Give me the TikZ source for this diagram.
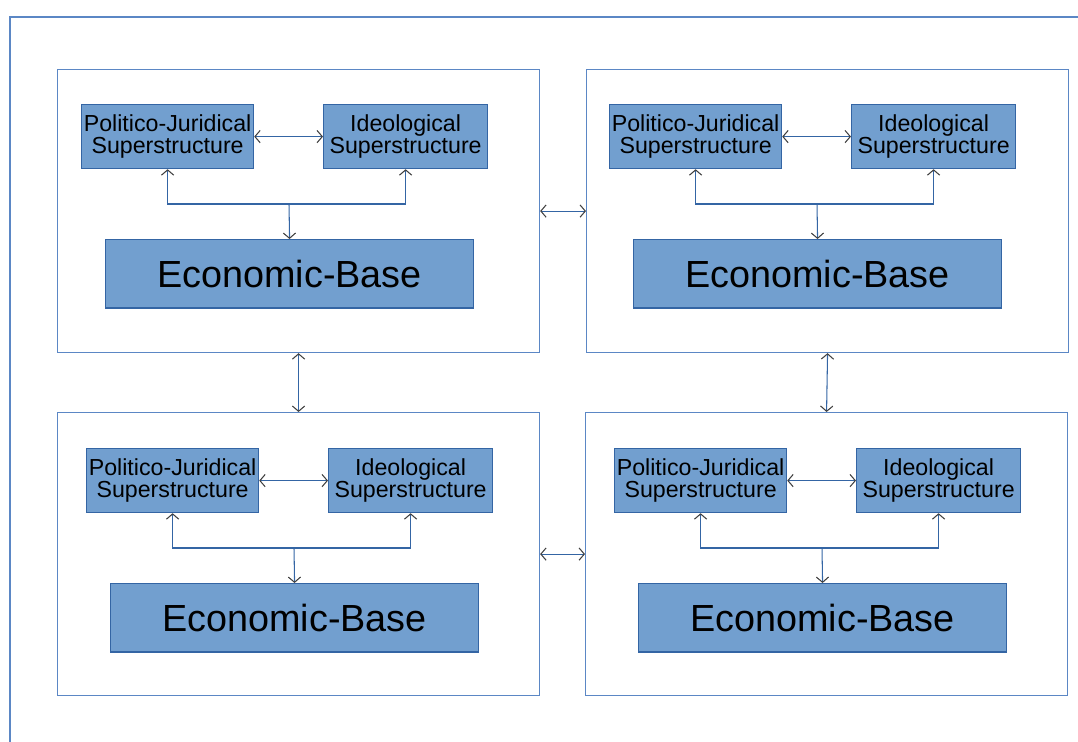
\documentclass[tikz,border=0pt]{standalone}
\usepackage{fontspec}
\setmainfont{Liberation Sans}
\usetikzlibrary{arrows.meta}
\definecolor{boxfill}{HTML}{729FCF}
\definecolor{boxline}{HTML}{3465A4}
\definecolor{frameline}{HTML}{5B87C5}
\tikzset{
	panel/.style={draw=frameline, line width=0.7pt, minimum width=9.64cm, minimum height=5.66cm, anchor=north west, inner sep=0},
	superbox/.style={draw=boxline, fill=boxfill, line width=0.7pt, align=center, inner sep=0, anchor=north west, minimum height=1.28cm, font=\fontsize{13.2}{12.5}\selectfont},
	basebox/.style={draw=boxline, fill=boxfill, line width=0.7pt, inner sep=0, anchor=north west, minimum width=7.36cm, minimum height=1.37cm, font=\fontsize{21.5}{24}\selectfont},
	link/.style={draw=boxline, line width=0.6pt}
}

\begin{document}
\begin{tikzpicture}[x=0.02cm, y=-0.02cm, >={Straight Barb[length=3pt,width=7pt,color=black!75]}]
		%%%%% START %%%%%
		\useasboundingbox (0,0) rectangle (1078,742);
		
		\draw[frameline, line width=0.7pt] (10,742) -- (10,17) -- (1078,17);
		
		\foreach \p/\fx/\fy/\ix/\iy in {tl/57/69/81/104, tr/586/69/609/104, bl/57/412/86/448, br/585/412/614/448}{
			\node[panel] (\p) at (\fx,\fy) {};
			\node[superbox, minimum width=3.44cm] (\p-pj) at (\ix,\iy) {Politico-Juridical\\Superstructure};
			\node[superbox, minimum width=3.28cm] (\p-id) at (\ix+242,\iy) {Ideological\\Superstructure};
			\node[basebox] (\p-eb) at (\ix+24,\iy+135) {Economic-Base};
			\coordinate (\p-j) at (\ix+208,\iy+100);
			
			\draw[link,<->] (\p-pj.east) -- (\p-id.west);
			\draw[link,<->] (\p-pj.south) |- (\p-j) -| (\p-id.south);
			\draw[link,->] (\p-j) -- (\p-eb.north);
		}
		
		\draw[link,<->] (tl.east) -- (tr.west);
		\draw[link,<->] (bl.east) -- (br.west);
		\draw[link,<->] (tl.south) -- (bl.north);
		\draw[link,<->] (tr.south) -- (br.north);
		%%%%% END %%%%%
\end{tikzpicture}
\end{document}
